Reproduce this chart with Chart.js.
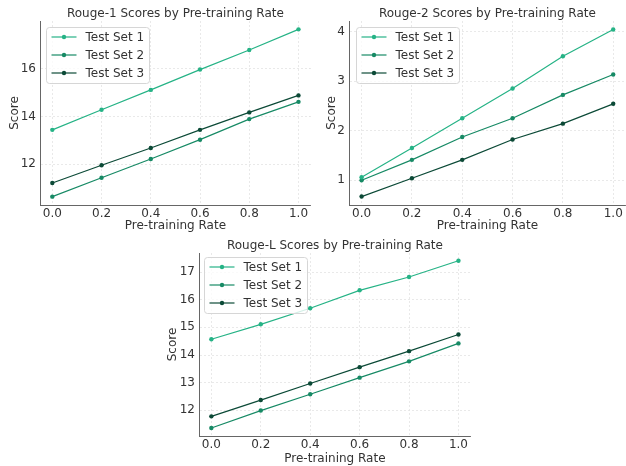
<!DOCTYPE html>
<html>
<head>
<meta charset="utf-8">
<script src="https://cdn.jsdelivr.net/npm/chart.js@4/dist/chart.umd.min.js"></script>
<style>
  body { margin: 0; width: 626px; height: 466px; overflow: hidden; background: #fff; position: relative; }
  canvas { position: absolute; }
</style>
</head>
<body>
<canvas id="rouge1" style="left:0;top:0;width:313px;height:233px" width="313" height="233"></canvas>
<canvas id="rouge2" style="left:313px;top:0;width:315px;height:233px" width="315" height="233"></canvas>
<canvas id="rougeL" style="left:160px;top:233px;width:313px;height:233px" width="313" height="233"></canvas>
<script>
const rates = [0.0, 0.2, 0.4, 0.6, 0.8, 1.0];
const seriesNames = ['Test Set 1', 'Test Set 2', 'Test Set 3'];
const seriesColors = ['#26b386', '#178a65', '#0c4a37'];

const rouge1Set1 = [13.44, 14.28, 15.11, 15.96, 16.78, 17.64];
const rouge1Set2 = [10.65, 11.44, 12.22, 13.03, 13.89, 14.61];
const rouge1Set3 = [11.22, 11.96, 12.68, 13.44, 14.17, 14.88];
const rouge1Ticks = [12, 14, 16];

const rouge2Set1 = [1.06, 1.65, 2.25, 2.85, 3.50, 4.04];
const rouge2Set2 = [1.00, 1.41, 1.87, 2.25, 2.72, 3.13];
const rouge2Set3 = [0.67, 1.04, 1.41, 1.82, 2.14, 2.54];
const rouge2Ticks = [1, 2, 3, 4];

const rougeLSet1 = [14.57, 15.11, 15.69, 16.34, 16.82, 17.41];
const rougeLSet2 = [11.36, 11.99, 12.58, 13.18, 13.77, 14.42];
const rougeLSet3 = [11.78, 12.37, 12.97, 13.56, 14.14, 14.74];
const rougeLTicks = [12, 13, 14, 15, 16, 17];

const rateTicks = [0.0, 0.2, 0.4, 0.6, 0.8, 1.0];

Chart.defaults.font.family = '"DejaVu Sans", sans-serif';
Chart.defaults.font.size = 12;
Chart.defaults.color = '#333';

// title centred over the plot area (matplotlib style), legend boxed inside top left
const plotDecor = {
    id: 'plotDecor',
    afterDatasetsDraw(chart, args, opts) {
        const ctx = chart.ctx, a = chart.chartArea;
        ctx.save();
        ctx.font = '12px "DejaVu Sans"';
        ctx.textAlign = 'center';
        ctx.textBaseline = 'middle';
        ctx.fillStyle = '#333';
        ctx.fillText(opts.title, (a.left + a.right) / 2, opts.titleY);

        const x0 = Math.round(a.left + opts.dx) + 0.5, y0 = Math.round(a.top + opts.dy) + 0.5;
        const w = 103, h = 56;
        ctx.beginPath();
        ctx.roundRect(x0, y0, w, h, 3);
        ctx.fillStyle = 'rgba(255,255,255,0.8)';
        ctx.fill();
        ctx.strokeStyle = '#d6d6d6';
        ctx.lineWidth = 1;
        ctx.stroke();
        ctx.textAlign = 'left';
        chart.data.datasets.forEach((ds, i) => {
            const y = y0 + 9.5 + i * 18;
            ctx.strokeStyle = ds.borderColor;
            ctx.lineWidth = 1.2;
            ctx.beginPath();
            ctx.moveTo(x0 + 5, y);
            ctx.lineTo(x0 + 30, y);
            ctx.stroke();
            ctx.fillStyle = ds.borderColor;
            ctx.beginPath();
            ctx.arc(x0 + 17.5, y, 2.2, 0, Math.PI * 2);
            ctx.fill();
            ctx.fillStyle = '#333';
            ctx.fillText(ds.label, x0 + 39, y + 0.5);
        });
        ctx.restore();
    }
};

function makeChart(id, title, sets, yTicks, yMin, yMax, layout) {
    const datasets = sets.map((vals, i) => ({
        label: seriesNames[i],
        data: rates.map((r, j) => ({ x: r, y: vals[j] })),
        borderColor: seriesColors[i],
        backgroundColor: seriesColors[i],
        borderWidth: 1.2,
        pointRadius: 2.2,
        pointHoverRadius: 2.2,
        pointBorderWidth: 0,
        tension: 0
    }));
    return new Chart(document.getElementById(id), {
        type: 'line',
        data: { datasets: datasets },
        plugins: [plotDecor],
        options: {
            responsive: false,
            animation: false,
            events: [],
            layout: { padding: { left: 0, right: 0, top: layout.top, bottom: 0 } },
            plugins: {
                legend: { display: false },
                tooltip: { enabled: false },
                title: { display: false },
                plotDecor: { title: title, titleY: layout.titleY, dx: layout.legendDx, dy: layout.legendDy }
            },
            scales: {
                x: {
                    type: 'linear',
                    min: -0.05,
                    max: 1.05,
                    afterBuildTicks: s => { s.ticks = rateTicks.map(v => ({ value: v })); },
                    afterFit: s => { s.height = layout.xHeight; },
                    ticks: { padding: 2, color: '#333', callback: v => v.toFixed(1), maxRotation: 0 },
                    grid: { color: '#e4e4e4', drawTicks: false, lineWidth: 0.8 },
                    border: { color: '#666', width: 1, dash: [2, 2] },
                    title: { display: true, text: 'Pre-training Rate', color: '#333', padding: { top: 0, bottom: 0 } }
                },
                y: {
                    min: yMin,
                    max: yMax,
                    afterBuildTicks: s => { s.ticks = yTicks.map(v => ({ value: v })); },
                    afterFit: s => { s.width = layout.yWidth; },
                    ticks: { padding: 4, color: '#333' },
                    grid: { color: '#e4e4e4', drawTicks: false, lineWidth: 0.8 },
                    border: { color: '#666', width: 1, dash: [2, 2] },
                    title: { display: true, text: 'Score', color: '#333', padding: { top: layout.yTitlePad, bottom: 0 } }
                }
            }
        }
    });
}

makeChart('rouge1', 'Rouge-1 Scores by Pre-training Rate',
    [rouge1Set1, rouge1Set2, rouge1Set3], rouge1Ticks, 10.30, 17.99,
    { top: 21, titleY: 13.5, xHeight: 28, yWidth: 40, yTitlePad: 8, legendDx: 6, legendDy: 6 });

makeChart('rouge2', 'Rouge-2 Scores by Pre-training Rate',
    [rouge2Set1, rouge2Set2, rouge2Set3], rouge2Ticks, 0.50, 4.21,
    { top: 21, titleY: 13.5, xHeight: 28, yWidth: 36, yTitlePad: 12, legendDx: 7, legendDy: 6 });

makeChart('rougeL', 'Rouge-L Scores by Pre-training Rate',
    [rougeLSet1, rougeLSet2, rougeLSet3], rougeLTicks, 11.07, 17.69,
    { top: 20, titleY: 12.5, xHeight: 30, yWidth: 39, yTitlePad: 6, legendDx: 5, legendDy: 4 });
</script>
</body>
</html>
